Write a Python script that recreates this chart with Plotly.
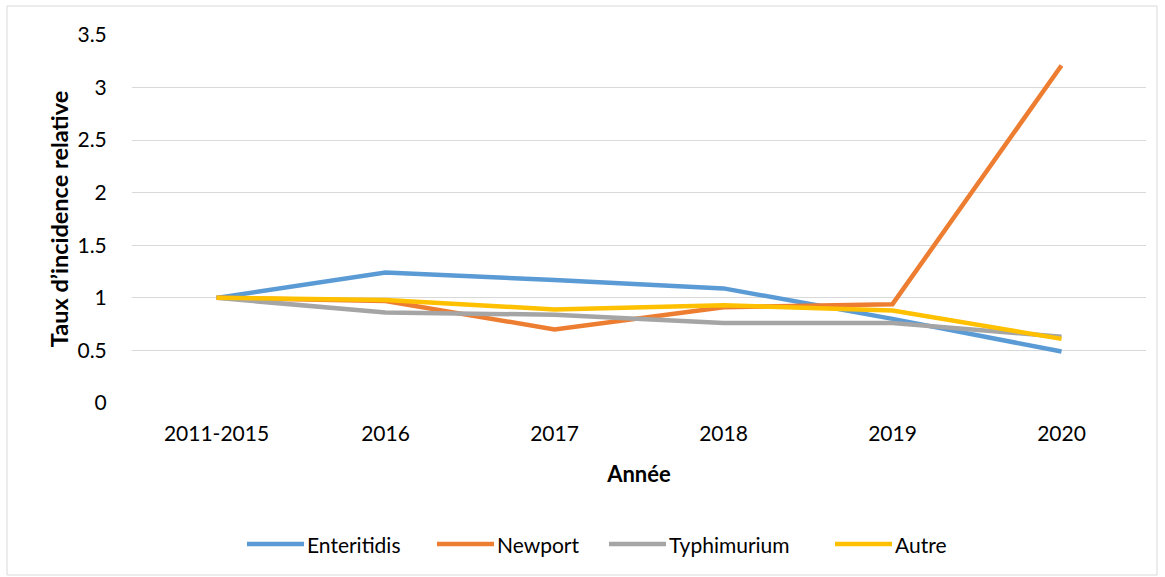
import plotly.graph_objects as go

annees = ["2011-2015", "2016", "2017", "2018", "2019", "2020"]
enteritidis = [1.0, 1.24, 1.17, 1.09, 0.80, 0.49]
newport = [1.0, 0.97, 0.70, 0.91, 0.94, 3.21]
typhimurium = [1.0, 0.86, 0.84, 0.76, 0.76, 0.63]
autre = [1.0, 0.98, 0.89, 0.93, 0.88, 0.61]

series = [
    ("Enteritidis", enteritidis, "#5B9BD5"),
    ("Newport", newport, "#ED7D31"),
    ("Typhimurium", typhimurium, "#A5A5A5"),
    ("Autre", autre, "#FFC000"),
]

FONT = "Lato"
L, R, T, B = 132, 19, 35, 174
W, H = 1165, 577
PW, PH = W - L - R, H - T - B


def px_x(px):
    return (px - L) / PW


def px_y(py):
    return (H - B - py) / PH


fig = go.Figure()
for nom, vals, couleur in series:
    fig.add_trace(go.Scatter(
        x=annees, y=vals, name=nom, mode="lines",
        line=dict(color=couleur, width=4.5), showlegend=False,
    ))

# legend drawn below the plot: long line sample followed by the series name
legend_pos = [247, 437, 609, 835]
shapes = [dict(
    type="rect", xref="paper", yref="paper",
    x0=px_x(7), x1=px_x(1157), y0=px_y(575), y1=px_y(6),
    line=dict(color="#D9D9D9", width=1), fillcolor="rgba(0,0,0,0)", layer="below",
)]
annotations = []
for (nom, _, couleur), x0 in zip(series, legend_pos):
    shapes.append(dict(
        type="line", xref="paper", yref="paper",
        x0=px_x(x0), x1=px_x(x0 + 57), y0=px_y(544), y1=px_y(544),
        line=dict(color=couleur, width=4.5),
    ))
    annotations.append(dict(
        text=nom, xref="paper", yref="paper", x=px_x(x0 + 58), y=px_y(544),
        xanchor="left", yanchor="middle", showarrow=False,
        font=dict(family=FONT, size=21, color="#000000"),
    ))

fig.update_layout(
    width=W, height=H,
    margin=dict(l=L, r=R, t=T, b=B),
    paper_bgcolor="white", plot_bgcolor="white",
    font=dict(family=FONT, size=21, color="#000000"),
    showlegend=False,
    xaxis=dict(
        type="category", range=[-0.5, 5.5],
        showgrid=False, zeroline=False, showline=False,
        ticks="outside", ticklen=12, tickcolor="rgba(0,0,0,0)",
        title=dict(text="<b>Année</b>", font=dict(family=FONT, size=22), standoff=22),
    ),
    yaxis=dict(
        range=[0, 3.5], dtick=0.5, tickformat="~g",
        showgrid=True, gridcolor="#D9D9D9", gridwidth=1.3,
        zeroline=False, showline=False,
        ticks="outside", ticklen=20, tickcolor="rgba(0,0,0,0)",
        title=dict(text="<b>Taux d’incidence relative</b>", font=dict(family=FONT, size=23.5), standoff=2),
    ),
    shapes=shapes,
    annotations=annotations,
)

fig.write_html("out.html")
